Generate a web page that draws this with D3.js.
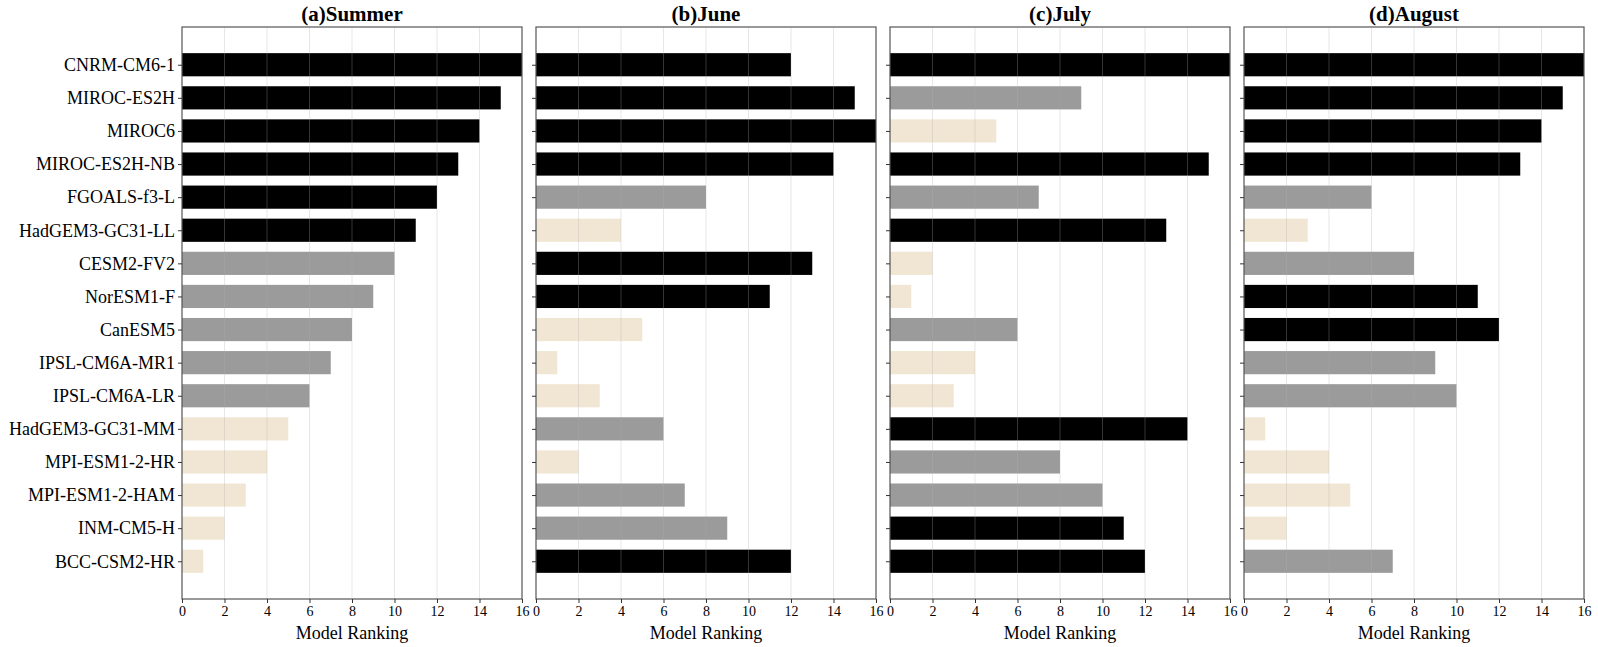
<!DOCTYPE html>
<html>
<head>
<meta charset="utf-8">
<script src="https://cdn.jsdelivr.net/npm/d3@7"></script>
<style>
  body { margin: 0; background: #fff; }
  svg { font-family: "Liberation Serif", "Times New Roman", serif; }
</style>
</head>
<body>
<svg id="chart" width="1598" height="647"></svg>
<script>
// model names, top to bottom
const models = ["CNRM-CM6-1", "MIROC-ES2H", "MIROC6", "MIROC-ES2H-NB", "FGOALS-f3-L",
  "HadGEM3-GC31-LL", "CESM2-FV2", "NorESM1-F", "CanESM5", "IPSL-CM6A-MR1",
  "IPSL-CM6A-LR", "HadGEM3-GC31-MM", "MPI-ESM1-2-HR", "MPI-ESM1-2-HAM", "INM-CM5-H", "BCC-CSM2-HR"];

const panelTitles = ["(a)Summer", "(b)June", "(c)July", "(d)August"];

// ranking per model, same order as models
const summerRank = [16, 15, 14, 13, 12, 11, 10, 9, 8, 7, 6, 5, 4, 3, 2, 1];
const juneRank   = [12, 15, 16, 14, 8, 4, 13, 11, 5, 1, 3, 6, 2, 7, 9, 12];
const julyRank   = [16, 9, 5, 15, 7, 13, 2, 1, 6, 4, 3, 14, 8, 10, 11, 12];
const augustRank = [16, 15, 14, 13, 6, 3, 8, 11, 12, 9, 10, 1, 4, 5, 2, 7];

const xTicks = [0, 2, 4, 6, 8, 10, 12, 14, 16];

const allRanks = [summerRank, juneRank, julyRank, augustRank];

// top third black, middle gray, bottom beige
const rankColor = (v) => v >= 11 ? "#000000" : (v >= 6 ? "#9b9b9b" : "#f1e6d3");

const svg = d3.select("#chart");
const plotTop = 27, plotBottom = 599;
const panelW = 340, gap = 14, left0 = 182;

// bar index 0..15 with ~1.14 slot of padding at each end
const y = d3.scaleLinear().domain([-1.14, 15 + 1.14]).range([plotTop, plotBottom]);
const barH = (y(1) - y(0)) * 0.7;

allRanks.forEach((ranks, p) => {
  const x0 = left0 + p * (panelW + gap);
  const x = d3.scaleLinear().domain([0, 16]).range([x0, x0 + panelW]);
  const g = svg.append("g");

  // bars
  g.selectAll("rect.bar")
    .data(ranks)
    .join("rect")
    .attr("class", "bar")
    .attr("x", x(0))
    .attr("y", (d, i) => y(i) - barH / 2)
    .attr("width", (d) => x(d) - x(0))
    .attr("height", barH)
    .attr("fill", (d) => rankColor(d));

  // vertical grid on top of bars
  g.selectAll("line.grid")
    .data(xTicks.slice(1, -1))
    .join("line")
    .attr("class", "grid")
    .attr("x1", (d) => x(d)).attr("x2", (d) => x(d))
    .attr("y1", plotTop).attr("y2", plotBottom)
    .attr("stroke", "#b0b0b0")
    .attr("stroke-opacity", 0.3)
    .attr("stroke-width", 1);

  // frame
  g.append("rect")
    .attr("x", x0).attr("y", plotTop)
    .attr("width", panelW).attr("height", plotBottom - plotTop)
    .attr("fill", "none")
    .attr("stroke", "#555")
    .attr("stroke-width", 1.2);

  // x axis
  const xAxis = g.append("g")
    .attr("transform", `translate(0,${plotBottom})`)
    .call(d3.axisBottom(x).tickValues(xTicks).tickSize(4).tickPadding(3).tickFormat(d3.format("d")));
  xAxis.select(".domain").remove();
  xAxis.selectAll(".tick line").attr("stroke", "#333");
  xAxis.selectAll("text").attr("font-size", 14).attr("fill", "#000")
    .attr("font-family", "Liberation Serif, serif");

  // y axis ticks
  const yAxis = g.append("g")
    .attr("transform", `translate(${x0},0)`)
    .call(d3.axisLeft(y).tickValues(d3.range(models.length)).tickSize(4).tickPadding(3)
      .tickFormat((i) => p === 0 ? models[i] : ""));
  yAxis.select(".domain").remove();
  yAxis.selectAll(".tick line").attr("stroke", "#333");
  yAxis.selectAll("text").attr("font-size", 18).attr("fill", "#000")
    .attr("font-family", "Liberation Serif, serif");

  // titles
  g.append("text")
    .attr("x", x0 + panelW / 2).attr("y", 21)
    .attr("text-anchor", "middle")
    .attr("font-size", 21).attr("font-weight", "bold")
    .text(panelTitles[p]);

  g.append("text")
    .attr("x", x0 + panelW / 2).attr("y", 639)
    .attr("text-anchor", "middle")
    .attr("font-size", 18)
    .text("Model Ranking");
});
</script>
</body>
</html>
